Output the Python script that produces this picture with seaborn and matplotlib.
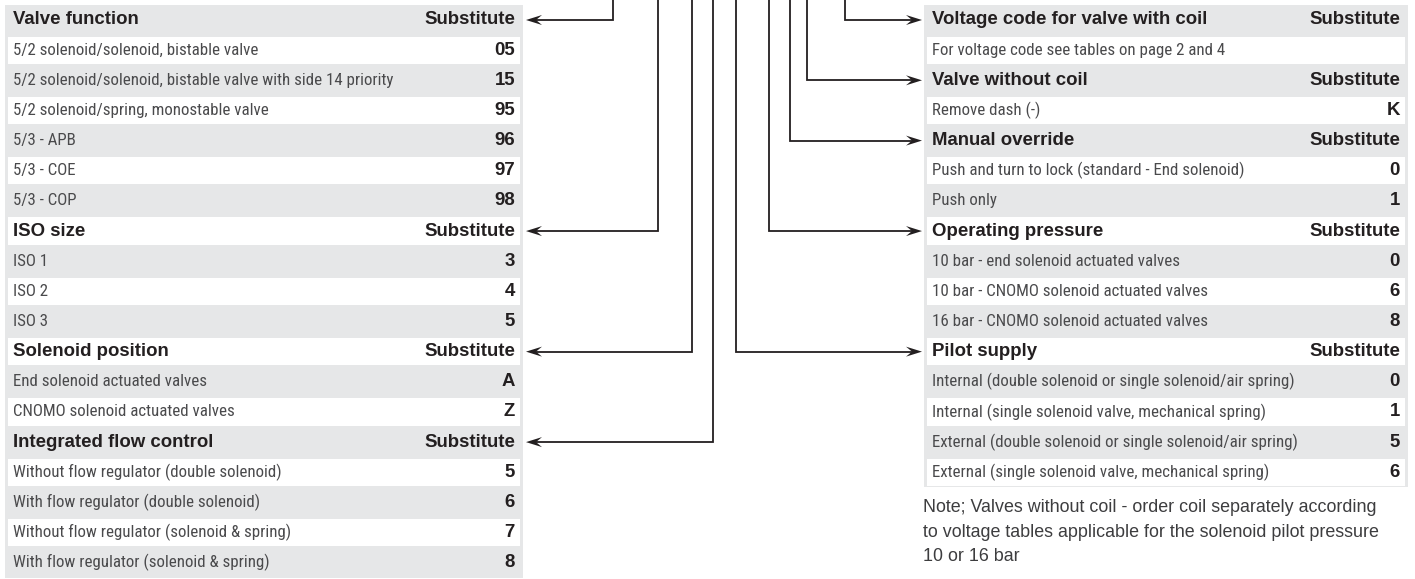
import matplotlib
matplotlib.use("Agg")
import matplotlib.pyplot as plt
from matplotlib import font_manager as fm
from matplotlib.patches import Polygon
import seaborn as sns

# left table: (text, code, is_header)
left_rows = [
    ("Valve function", "Substitute", True),
    ("5/2 solenoid/solenoid, bistable valve", "05", False),
    ("5/2 solenoid/solenoid, bistable valve with side 14 priority", "15", False),
    ("5/2 solenoid/spring, monostable valve", "95", False),
    ("5/3 - APB", "96", False),
    ("5/3 - COE", "97", False),
    ("5/3 - COP", "98", False),
    ("ISO size", "Substitute", True),
    ("ISO 1", "3", False),
    ("ISO 2", "4", False),
    ("ISO 3", "5", False),
    ("Solenoid position", "Substitute", True),
    ("End solenoid actuated valves", "A", False),
    ("CNOMO solenoid actuated valves", "Z", False),
    ("Integrated flow control", "Substitute", True),
    ("Without flow regulator (double solenoid)", "5", False),
    ("With flow regulator (double solenoid)", "6", False),
    ("Without flow regulator (solenoid & spring)", "7", False),
    ("With flow regulator (solenoid & spring)", "8", False),
]

right_rows = [
    ("Voltage code for valve with coil", "Substitute", True),
    ("For voltage code see tables on page 2 and 4", "", False),
    ("Valve without coil", "Substitute", True),
    ("Remove dash (-)", "K", False),
    ("Manual override", "Substitute", True),
    ("Push and turn to lock (standard - End solenoid)", "0", False),
    ("Push only", "1", False),
    ("Operating pressure", "Substitute", True),
    ("10 bar - end solenoid actuated valves", "0", False),
    ("10 bar - CNOMO solenoid actuated valves", "6", False),
    ("16 bar - CNOMO solenoid actuated valves", "8", False),
    ("Pilot supply", "Substitute", True),
    ("Internal (double solenoid or single solenoid/air spring)", "0", False),
    ("Internal (single solenoid valve, mechanical spring)", "1", False),
    ("External (double solenoid or single solenoid/air spring)", "5", False),
    ("External (single solenoid valve, mechanical spring)", "6", False),
]

note_lines = [
    "Note; Valves without coil - order coil separately according",
    "to voltage tables applicable for the solenoid pilot pressure",
    "10 or 16 bar",
]

# layout (pixels)
W, H = 1415, 579
PITCH = 30.15
Y0 = 20
K = 1 / PITCH  # pixel -> row units
LEFT_X = (5, 523)
RIGHT_X = (924, 1408)
# connector x for each header (header row index -> x of vertical line)
left_links = {0: 613, 7: 658, 11: 692, 14: 713}
right_links = {0: 845, 2: 807, 4: 790, 7: 769, 11: 736}

GRAY = "#e6e7e8"
DARK = "#231f20"
BODY = "#4a4a4c"

sns.set_theme(style="white")
names = {f.name for f in fm.fontManager.ttflist}
body_family = next((n for n in ["Liberation Sans Narrow", "Roboto Condensed",
                                "Open Sans Condensed"] if n in names), "DejaVu Sans")
head_family = "Liberation Sans" if "Liberation Sans" in names else "DejaVu Sans"

fig = plt.figure(figsize=(W / 100, H / 100), dpi=100)
ax = fig.add_axes([0, 0, 1, 1])
ax.set_xlim(0, W)
ax.set_ylim((H - Y0) * K, -Y0 * K)
ax.axis("off")


def draw_table(rows, xr):
    x0, x1 = xr
    n = len(rows)
    ax.barh([(n - 1) / 2], [x1 - x0], height=n, left=x0, color=GRAY, linewidth=0)
    white = [i for i in range(n) if i % 2 == 1]
    ax.barh(white, [x1 - x0 - 6] * len(white), height=0.9, left=x0 + 3,
            color="white", linewidth=0)
    for i, (label, code, head) in enumerate(rows):
        if head:
            ax.text(x0 + 8, i, label, ha="left", va="center", fontsize=13.4,
                    fontweight="bold", family=head_family, color=DARK)
        else:
            ax.text(x0 + 8, i, label, ha="left", va="center", fontsize=12.2,
                    family=body_family, color=BODY)
        if code:
            ax.text(x1 - 8, i, code, ha="right", va="center", fontsize=13.4,
                    fontweight="bold", family=head_family, color=DARK)


def arrow(cx, row, tip, direction):
    top = -Y0 * K - 0.1
    back = tip + direction * 10
    ax.plot([cx, cx, back], [top, row, row], color=DARK, lw=1.3,
            solid_joinstyle="miter")
    head = [(tip, row), (tip + direction * 16, row - 5 * K),
            (tip + direction * 10, row), (tip + direction * 16, row + 5 * K)]
    ax.add_patch(Polygon(head, closed=True, color=DARK, lw=0))


draw_table(left_rows, LEFT_X)
draw_table(right_rows, RIGHT_X)

for r, cx in left_links.items():
    arrow(cx, r, LEFT_X[1] + 3, 1)
for r, cx in right_links.items():
    arrow(cx, r, RIGHT_X[0] - 2, -1)

for j, line in enumerate(note_lines):
    ax.text(RIGHT_X[0] - 1, (508 - Y0) * K + j * 24 * K, line, ha="left",
            va="center", fontsize=12.9, family=head_family, color="#3d3d3f")

fig.savefig("out.png", dpi=100)
